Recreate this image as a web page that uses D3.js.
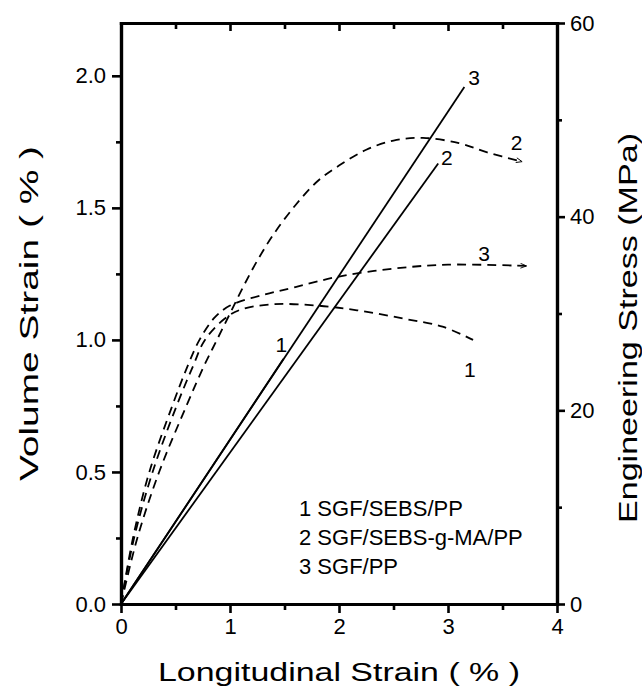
<!DOCTYPE html>
<html>
<head>
<meta charset="utf-8">
<script src="https://cdn.jsdelivr.net/npm/d3@7"></script>
<style>
  body { margin: 0; background: #fff; }
  svg { font-family: "Liberation Sans", Arial, sans-serif; }
  .axis text { font-family: "Liberation Sans", Arial, sans-serif; font-size: 22px; fill: #000; }
</style>
</head>
<body>
<svg id="chart" width="642" height="696"></svg>
<script>
// volume strain (dashed, left axis)
const volX1 = [0, 0.12, 0.29, 0.51, 0.66, 0.77, 0.95, 1.1, 1.4, 1.8, 2.2, 2.6, 2.95, 3.23];
const volY1 = [0, 0.25, 0.5, 0.75, 0.9, 1.0, 1.08, 1.115, 1.135, 1.13, 1.11, 1.08, 1.05, 1.0];
const volX2 = [0, 0.15, 0.35, 0.6, 0.76, 0.88, 1.0, 1.12, 1.25, 1.4, 1.6, 1.8, 2.0, 2.25, 2.5, 2.77, 3.1, 3.36, 3.68];
const volY2 = [0, 0.25, 0.5, 0.75, 0.9, 1.0, 1.1, 1.2, 1.3, 1.4, 1.51, 1.6, 1.66, 1.72, 1.755, 1.765, 1.745, 1.71, 1.675];
const volX3 = [0, 0.11, 0.26, 0.47, 0.61, 0.72, 0.86, 1.0, 1.3, 1.6, 2.0, 2.5, 3.0, 3.72];
const volY3 = [0, 0.25, 0.5, 0.75, 0.9, 1.0, 1.085, 1.13, 1.17, 1.2, 1.24, 1.27, 1.285, 1.28];

// engineering stress (solid, right axis)
const stressX1 = [0, 1.49];
const stressY1 = [0, 25.3];
const stressX2 = [0, 2.91];
const stressY2 = [0, 45.5];
const stressX3 = [0, 3.15];
const stressY3 = [0, 53.4];

// curve labels [text, strain, value]
const volLabels = [['1', 3.2, 0.86], ['2', 3.63, 1.72], ['3', 3.33, 1.3]];
const stressLabels = [['1', 1.47, 26.0], ['2', 2.99, 45.3], ['3', 3.24, 53.6]];

const legendItems = ['1 SGF/SEBS/PP', '2 SGF/SEBS-g-MA/PP', '3 SGF/PP'];

const xTicks = [0, 1, 2, 3, 4];
const xMinor = [0.5, 1.5, 2.5, 3.5];
const yTicks = [0, 0.5, 1.0, 1.5, 2.0];
const yMinor = [0.25, 0.75, 1.25, 1.75];
const y2Ticks = [0, 20, 40, 60];
const y2Minor = [10, 30, 50];

const plotLeft = 121;
const plotRight = 557;
const plotTop = 23;
const plotBottom = 604;

const svg = d3.select('#chart');

const x = d3.scaleLinear().domain([0, 4]).range([plotLeft, plotRight]);
const y = d3.scaleLinear().domain([0, 2.2]).range([plotBottom, plotTop]);
const y2 = d3.scaleLinear().domain([0, 60]).range([plotBottom, plotTop]);

svg.append('defs').append('marker')
  .attr('id', 'arrow')
  .attr('viewBox', '0 0 10 10')
  .attr('refX', 10)
  .attr('refY', 5)
  .attr('markerWidth', 9)
  .attr('markerHeight', 6)
  .attr('markerUnits', 'userSpaceOnUse')
  .attr('orient', 'auto')
  .append('path')
  .attr('d', 'M0,1 L10,5 L0,9')
  .attr('fill', 'none')
  .attr('stroke', '#000')
  .attr('stroke-width', 1.5);

// axes
const addAxis = (axis, tx, ty) => svg.append('g')
  .attr('class', 'axis')
  .attr('transform', `translate(${tx}, ${ty})`)
  .call(axis);

addAxis(d3.axisBottom(x).tickValues(xTicks).tickFormat(d3.format('d')).tickSize(9).tickSizeOuter(0).tickPadding(5), 0, plotBottom);
addAxis(d3.axisBottom(x).tickValues(xMinor).tickFormat('').tickSize(6).tickSizeOuter(0), 0, plotBottom);
addAxis(d3.axisBottom(x).tickValues(xTicks).tickFormat('').tickSize(8).tickSizeOuter(0), 0, plotTop);
addAxis(d3.axisBottom(x).tickValues(xMinor).tickFormat('').tickSize(6).tickSizeOuter(0), 0, plotTop);
addAxis(d3.axisLeft(y).tickValues(yTicks).tickFormat(d3.format('.1f')).tickSize(9).tickSizeOuter(0).tickPadding(6), plotLeft, 0);
addAxis(d3.axisLeft(y).tickValues(yMinor).tickFormat('').tickSize(5).tickSizeOuter(0), plotLeft, 0);
addAxis(d3.axisRight(y2).tickValues(y2Ticks).tickFormat(d3.format('d')).tickSize(8).tickSizeOuter(0).tickPadding(5), plotRight, 0);
addAxis(d3.axisRight(y2).tickValues(y2Minor).tickFormat('').tickSize(5).tickSizeOuter(0), plotRight, 0);

svg.selectAll('.axis path.domain')
  .attr('stroke', '#000')
  .attr('stroke-width', 3.2)
  .attr('stroke-linecap', 'square');
svg.selectAll('.axis .tick line')
  .attr('stroke', '#000')
  .attr('stroke-width', 2.6);

// axis titles
svg.append('text')
  .attr('x', (plotLeft + plotRight) / 2)
  .attr('y', 681)
  .attr('text-anchor', 'middle')
  .attr('font-size', 26)
  .attr('textLength', 362)
  .attr('lengthAdjust', 'spacingAndGlyphs')
  .text('Longitudinal Strain ( % )');

svg.append('text')
  .attr('transform', `translate(38, ${y(1.1)}) rotate(-90)`)
  .attr('text-anchor', 'middle')
  .attr('font-size', 26)
  .attr('textLength', 335)
  .attr('lengthAdjust', 'spacingAndGlyphs')
  .text('Volume Strain ( % )');

svg.append('text')
  .attr('transform', 'translate(637, 328) rotate(-90)')
  .attr('text-anchor', 'middle')
  .attr('font-size', 26)
  .attr('textLength', 390)
  .attr('lengthAdjust', 'spacingAndGlyphs')
  .text('Engineering Stress (MPa)');

// curves
const lineVol = d3.line()
  .x((d) => x(d[0]))
  .y((d) => y(d[1]))
  .curve(d3.curveCatmullRom.alpha(0.5));

const lineStress = d3.line()
  .x((d) => x(d[0]))
  .y((d) => y2(d[1]));

const volSeries = [
  { xs: volX1, ys: volY1, arrow: false },
  { xs: volX2, ys: volY2, arrow: true },
  { xs: volX3, ys: volY3, arrow: true },
];

svg.append('g')
  .selectAll('path')
  .data(volSeries)
  .enter()
  .append('path')
  .attr('d', (s) => lineVol(s.xs.map((v, i) => [v, s.ys[i]])))
  .attr('fill', 'none')
  .attr('stroke', '#000')
  .attr('stroke-width', 1.8)
  .attr('stroke-dasharray', '9,6')
  .attr('marker-end', (s) => (s.arrow ? 'url(#arrow)' : null));

const stressSeries = [
  { xs: stressX1, ys: stressY1 },
  { xs: stressX2, ys: stressY2 },
  { xs: stressX3, ys: stressY3 },
];

svg.append('g')
  .selectAll('path')
  .data(stressSeries)
  .enter()
  .append('path')
  .attr('d', (s) => lineStress(s.xs.map((v, i) => [v, s.ys[i]])))
  .attr('fill', 'none')
  .attr('stroke', '#000')
  .attr('stroke-width', 1.8);

// curve labels
const labelG = svg.append('g')
  .attr('font-size', 21)
  .attr('text-anchor', 'middle');

labelG.selectAll('text.vol')
  .data(volLabels)
  .enter()
  .append('text')
  .attr('class', 'vol')
  .attr('x', (d) => x(d[1]))
  .attr('y', (d) => y(d[2]))
  .text((d) => d[0]);

labelG.selectAll('text.stress')
  .data(stressLabels)
  .enter()
  .append('text')
  .attr('class', 'stress')
  .attr('x', (d) => x(d[1]))
  .attr('y', (d) => y2(d[2]))
  .text((d) => d[0]);

// legend
svg.append('g')
  .selectAll('text')
  .data(legendItems)
  .enter()
  .append('text')
  .attr('x', 299)
  .attr('y', (d, i) => 516 + i * 29)
  .attr('font-size', 22)
  .text((d) => d);
</script>
</body>
</html>
